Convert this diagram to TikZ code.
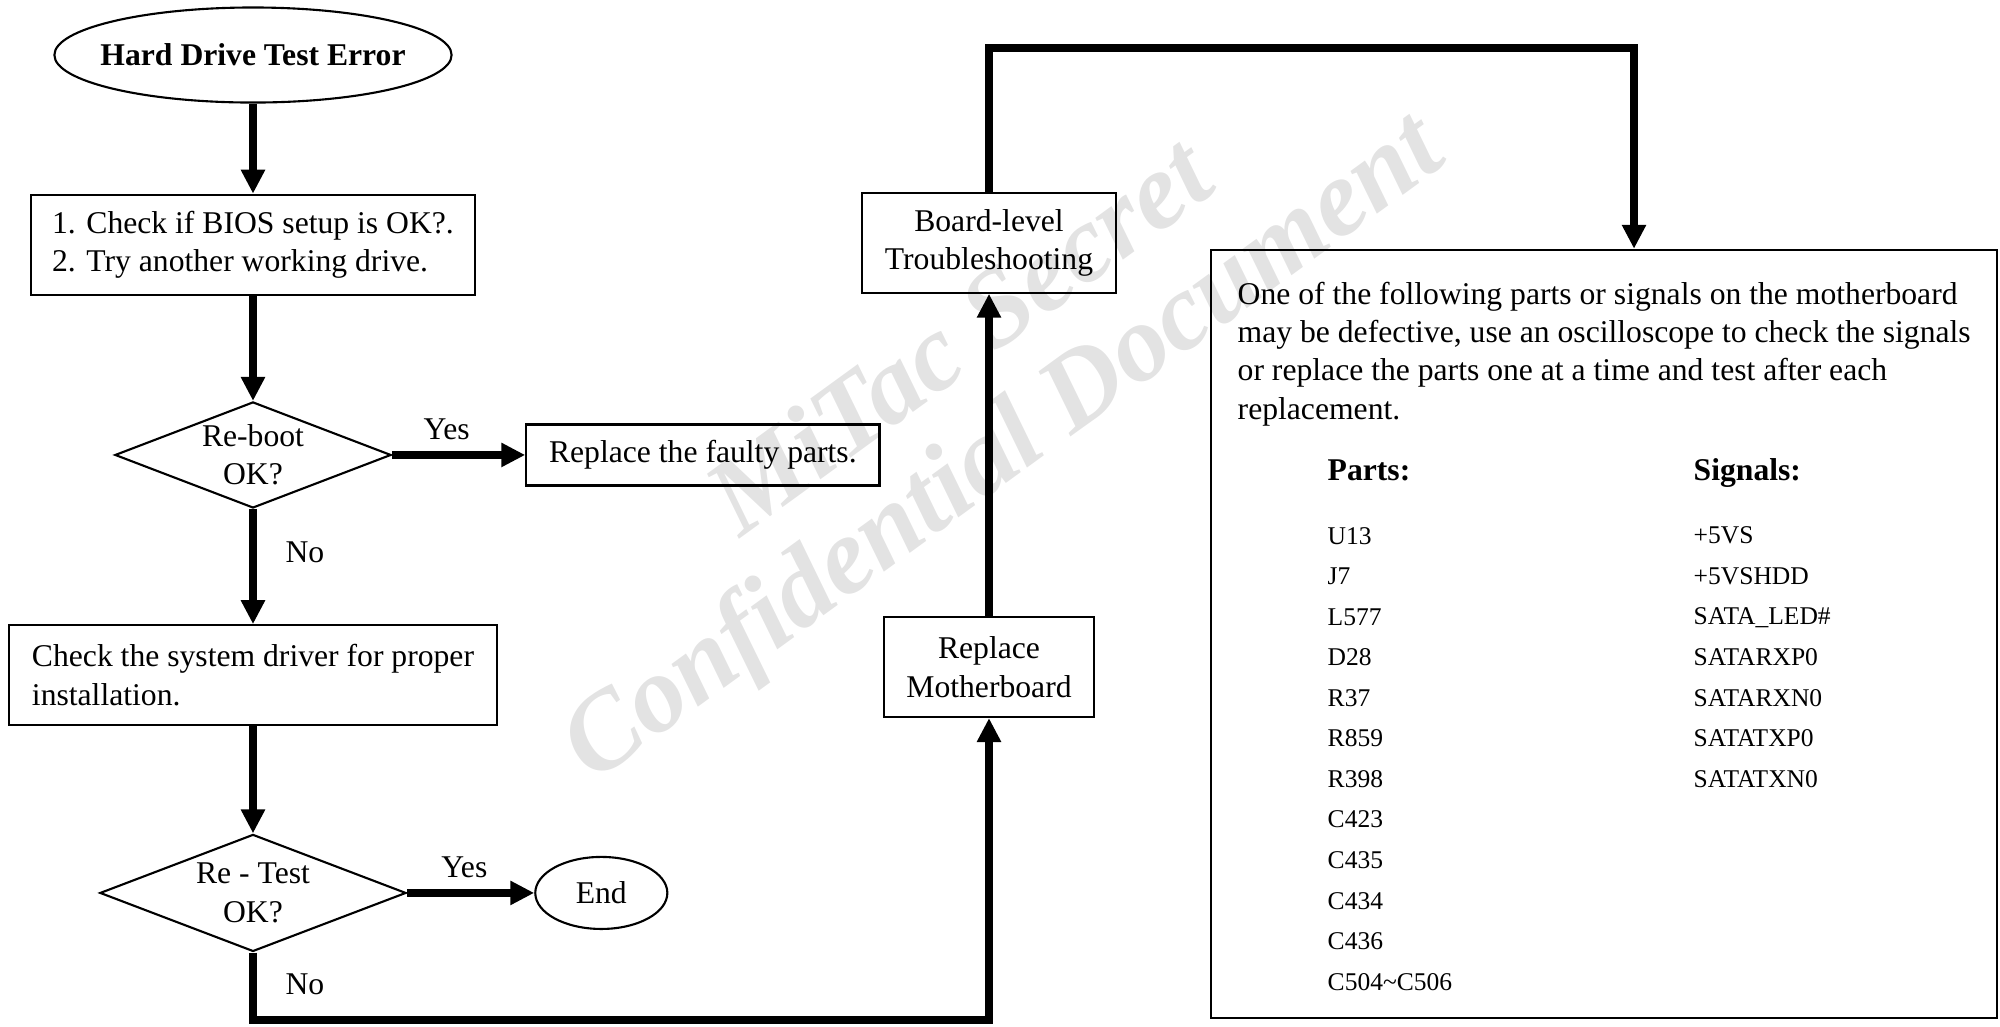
\documentclass[tikz,border=0pt]{standalone}
\usepackage{fontspec}
\setmainfont{Liberation Serif}
\usepackage{tikz}
\usetikzlibrary{arrows.meta,positioning,shapes.geometric}

\begin{document}
\begin{tikzpicture}[
  x=0.01cm, y=-0.01cm,
  box/.style={draw, line width=0.6pt, align=center, minimum height=1.0cm, font=\fontsize{9}{10.9}\selectfont},
  oval/.style={draw, ellipse, line width=0.6pt, inner sep=0pt, font=\fontsize{9}{10.9}\selectfont},
  choice/.style={draw, diamond, line width=0.6pt, inner sep=0pt},
  note/.style={font=\fontsize{9}{10.9}\selectfont},
  head/.style={anchor=base west, inner sep=0pt, font=\fontsize{9}{10.9}\selectfont\bfseries},
  listing/.style={align=left, anchor=base west, inner sep=0pt, font=\fontsize{7.26}{11.52}\selectfont},
  arr/.style={-{Triangle[length=6.8pt,width=6.5pt]}, line width=2.2pt},
  wmark/.style={align=center, text=black!11, font=\fontsize{31}{31.9}\selectfont\bfseries\itshape}
]
\useasboundingbox (0,0) rectangle (2000,1026);

% watermark behind everything
\node[wmark, rotate=36] (wm) at (973,406) {\hspace*{0.6cm}MiTac Secret\\Confidential Document};

\node[oval, minimum width=3.97cm, minimum height=0.95cm, label={[note]center:\textbf{Hard Drive Test Error}}] (start) at (253,55) {};
\node[box, below=0.9cm of start, minimum width=4.44cm, align=left] (check) {1. Check if BIOS setup is OK?.\\2. Try another working drive.};
\node[choice, below=1.05cm of check, minimum width=2.76cm, minimum height=1.06cm, label={[note, align=center]center:{Re-boot\\OK?}}] (reboot) {};
\node[box, right=1.33cm of reboot, minimum width=3.53cm, minimum height=0.61cm] (faulty) {Replace the faulty parts.};
\node[box, below=1.15cm of reboot, minimum width=4.88cm, align=left] (driver) {Check the system driver for proper\\installation.};
\node[choice, below=1.07cm of driver, minimum width=3.06cm, minimum height=1.17cm, label={[note, align=center]center:{Re - Test\\OK?}}] (retest) {};
\node[oval, right=1.27cm of retest, minimum width=1.32cm, minimum height=0.72cm] (finish) {End};

\node[box, minimum width=2.10cm] (replmb) at (989,667) {Replace\\Motherboard};
\node[box, above=3.22cm of replmb, minimum width=2.53cm] (board) {Board-level\\Troubleshooting};

% right hand box with parts and signals (base = last line)
\node[draw, line width=0.6pt, minimum width=7.86cm, minimum height=7.68cm] (info) at (1604,634) {};
\node[note, align=left, anchor=base west, inner sep=0pt] (infotext) at (1237,419) {One of the following parts or signals on the motherboard\\may be defective, use an oscilloscope to check the signals\\or replace the parts one at a time and test after each\\replacement.};
\node[head] (partshead) at (1327,480) {Parts:};
\node[head] (sigshead) at (1693,480) {Signals:};
\node[listing] (parts) at (1327,990) {U13\\J7\\L577\\D28\\R37\\R859\\R398\\C423\\C435\\C434\\C436\\C504\textasciitilde C506};
\node[listing] (signals) at (1693,787) {+5VS\\+5VSHDD\\SATA\_LED\#\\SATARXP0\\SATARXN0\\SATATXP0\\SATATXN0};

\draw[arr] (start) -- (check);
\draw[arr] (check) -- (reboot);
\draw[arr] (reboot) -- node[note, above, pos=0.41] {Yes} (faulty);
\draw[arr] (reboot) -- node[note, right=0.17cm, pos=0.38] {No} (driver);
\draw[arr] (driver) -- (retest);
\draw[arr] (retest) -- node[note, above, pos=0.45] {Yes} (finish);

\coordinate (low) at (253,1020);
\draw[arr] (retest) -- node[note, right=0.17cm, pos=0.47] {No} (low) -| (replmb);
\draw[arr] (replmb) -- (board);

\coordinate (high) at (1634,48);
\draw[arr] (board) |- (high) -- (high |- info.north);

\end{tikzpicture}
\end{document}
